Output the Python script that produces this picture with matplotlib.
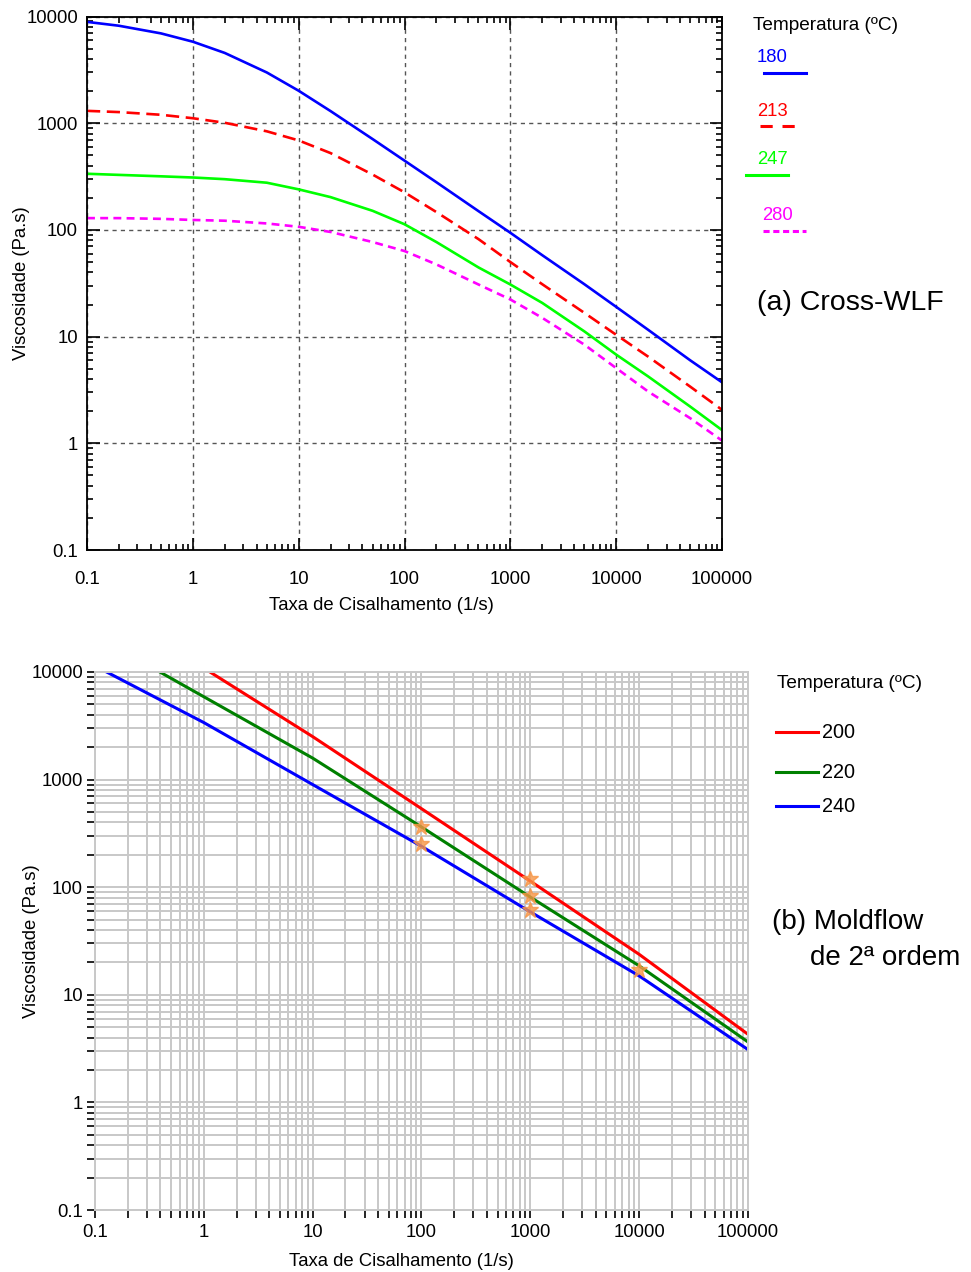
from matplotlib import pyplot as plt
from matplotlib.lines import Line2D
from matplotlib.ticker import LogLocator, FuncFormatter, NullFormatter
import numpy as np

plt.rcParams['font.family'] = ['Liberation Sans', 'DejaVu Sans']

# (a) Cross-WLF
rate_a = [0.1, 0.2, 0.5, 1, 2, 5, 10, 20, 50, 100, 200, 500, 1000, 2000, 5000,
          10000, 20000, 50000, 100000]
visc_180 = [8910, 8200, 6950, 5810, 4560, 2990, 2015, 1300, 710, 446, 280, 150,
            94, 58, 31, 19, 11.6, 6.0, 3.73]
visc_213 = [1306, 1272, 1200, 1114, 1010, 840, 690, 525, 330, 225, 147, 82,
            50, 31, 16.7, 10.4, 6.5, 3.4, 2.06]
visc_247 = [336, 328, 318, 310, 299, 277, 240, 203, 151, 113, 77, 44.5, 30.8,
            20.7, 11.2, 6.78, 4.24, 2.21, 1.33]
visc_280 = [129, 129, 127, 124, 122, 115, 107, 95.7, 77, 63.4, 47.5, 30.8, 22.3,
            15, 8.41, 5.07, 3.06, 1.72, 1.06]
temps_a = ["180", "213", "247", "280"]

# (b) Moldflow 2nd order
rate_200 = [1.14, 10, 100, 1000, 10000, 100000]
visc_200 = [10000, 2510, 537, 114, 23.8, 4.3]
rate_220 = [0.395, 1, 10, 100, 1000, 10000, 100000]
visc_220 = [10000, 5890, 1585, 363, 81, 18.6, 3.65]
rate_240 = [0.128, 1, 10, 100, 1000, 10000, 100000]
visc_240 = [10000, 3390, 900, 240, 59, 15, 3.1]
temps_b = ["200", "220", "240"]
exp_rate = [100, 100, 1000, 1000, 1000, 10000]
exp_visc = [360, 251, 119, 83, 62, 17]

xticks = [0.1, 1, 10, 100, 1000, 10000, 100000]
yticks = [0.1, 1, 10, 100, 1000, 10000]


def fmt(v, pos=None):
    return "%g" % v if v < 1 else "%d" % round(v)


FS = 13.3
fig = plt.figure(figsize=(9.71, 12.72), dpi=100)

# ---------- top chart ----------
ax1 = fig.add_axes([0.0896, 0.5676, 0.654, 0.4194])
lw = 1.9
ax1.plot(rate_a, visc_180, color="#0000ff", lw=lw)
ax1.plot(rate_a, visc_213, color="#ff0000", lw=lw, dashes=(5, 2.5))
ax1.plot(rate_a, visc_247, color="#00ff00", lw=lw)
ax1.plot(rate_a, visc_280, color="#ff00ff", lw=lw, dashes=(3, 2))
ax1.set_xscale("log")
ax1.set_yscale("log")
ax1.set_xlim(0.1, 100000)
ax1.set_ylim(0.1, 10000)
ax1.set_xticks(xticks)
ax1.set_yticks(yticks)
ax1.xaxis.set_major_formatter(FuncFormatter(fmt))
ax1.yaxis.set_major_formatter(FuncFormatter(fmt))
for a in (ax1.xaxis, ax1.yaxis):
    a.set_minor_locator(LogLocator(base=10, subs=np.arange(2, 10), numticks=20))
    a.set_minor_formatter(NullFormatter())
ax1.tick_params(which="both", direction="in", top=True, right=True,
                labelsize=FS, colors="black")
ax1.tick_params(which="major", length=9, width=1.2)
ax1.tick_params(which="minor", length=4.5, width=1.2)
ax1.tick_params(axis="x", which="major", pad=15)
ax1.tick_params(axis="y", which="major", pad=6.5)
ax1.grid(True, which="major", color="#555555", lw=1, dashes=(3, 3))
for s in ax1.spines.values():
    s.set_linewidth(1.3)
ax1.set_xlabel("Taxa de Cisalhamento (1/s)", fontsize=FS)
ax1.set_ylabel("Viscosidade (Pa.s)", fontsize=FS)
ax1.xaxis.set_label_coords(0.463, -0.088)
ax1.yaxis.set_label_coords(-0.089, 0.5)

# legend (a)
W, H = 971.0, 1272.0


def fx(px):
    return px / W


def fy(py):
    return 1 - py / H


fig.text(fx(753), fy(25), "Temperatura (ºC)", fontsize=FS + 0.4, va="center")
leg_a = [("180", "#0000ff", 757, 58, (764, 806), 73, None),
         ("213", "#ff0000", 757, 112, (760, 797), 126, (4, 3.2)),
         ("247", "#00ff00", 757, 160, (746, 788), 175, None),
         ("280", "#ff00ff", 762, 215, (763, 806), 231, (2, 1.2))]
for lab, c, tx, ty, (x0, x1), ly, d in leg_a:
    fig.text(fx(tx), fy(ty), lab, fontsize=FS, color=c, va="center")
    ln = Line2D([fx(x0), fx(x1)], [fy(ly), fy(ly)], color=c, lw=2.2,
                transform=fig.transFigure)
    if d is not None:
        ln.set_dashes(d)
    fig.add_artist(ln)
fig.text(fx(757), fy(303), "(a) Cross-WLF", fontsize=20.5, va="center")

# ---------- bottom chart ----------
ax2 = fig.add_axes([0.0978, 0.0487, 0.6725, 0.423])
ax2.plot(rate_200, visc_200, color="#ff0000", lw=2.2)
ax2.plot(rate_220, visc_220, color="#008000", lw=2.2)
ax2.plot(rate_240, visc_240, color="#0000ff", lw=2.2)
ax2.plot(exp_rate, exp_visc, ls="none", marker="*", ms=12, color="#f79646",
         alpha=0.8)
ax2.set_xscale("log")
ax2.set_yscale("log")
ax2.set_xlim(0.1, 100000)
ax2.set_ylim(0.1, 10000)
ax2.set_xticks(xticks)
ax2.set_yticks(yticks)
ax2.xaxis.set_major_formatter(FuncFormatter(fmt))
ax2.yaxis.set_major_formatter(FuncFormatter(fmt))
for a in (ax2.xaxis, ax2.yaxis):
    a.set_minor_locator(LogLocator(base=10, subs=np.arange(2, 10), numticks=20))
    a.set_minor_formatter(NullFormatter())
ax2.tick_params(which="both", direction="out", labelsize=FS, colors="black",
                length=5.5, width=1.2)
ax2.tick_params(axis="x", which="major", pad=4.4)
ax2.tick_params(axis="y", which="major", pad=3.2)
ax2.grid(True, which="both", color="#c8c8c8", lw=1.4)
ax2.set_axisbelow(True)
for s in ax2.spines.values():
    s.set_color("#c8c8c8")
    s.set_linewidth(1.4)
ax2.set_xlabel("Taxa de Cisalhamento (1/s)", fontsize=FS)
ax2.set_ylabel("Viscosidade (Pa.s)", fontsize=FS)
ax2.xaxis.set_label_coords(0.47, -0.08)
ax2.yaxis.set_label_coords(-0.084, 0.5)

# legend (b)
fig.text(fx(777), fy(684), "Temperatura (ºC)", fontsize=FS + 0.4, va="center")
for lab, c, ly in zip(temps_b, ["#ff0000", "#008000", "#0000ff"], [732, 772, 806]):
    fig.add_artist(Line2D([fx(776), fx(818)], [fy(ly), fy(ly)], color=c, lw=2.2,
                          transform=fig.transFigure))
    fig.text(fx(822), fy(ly), lab, fontsize=FS + 1, va="center")
fig.text(fx(772), fy(922), "(b) Moldflow", fontsize=20, va="center")
fig.text(fx(810), fy(958), "de 2ª ordem", fontsize=20, va="center")

fig.savefig("out.png", dpi=100)
